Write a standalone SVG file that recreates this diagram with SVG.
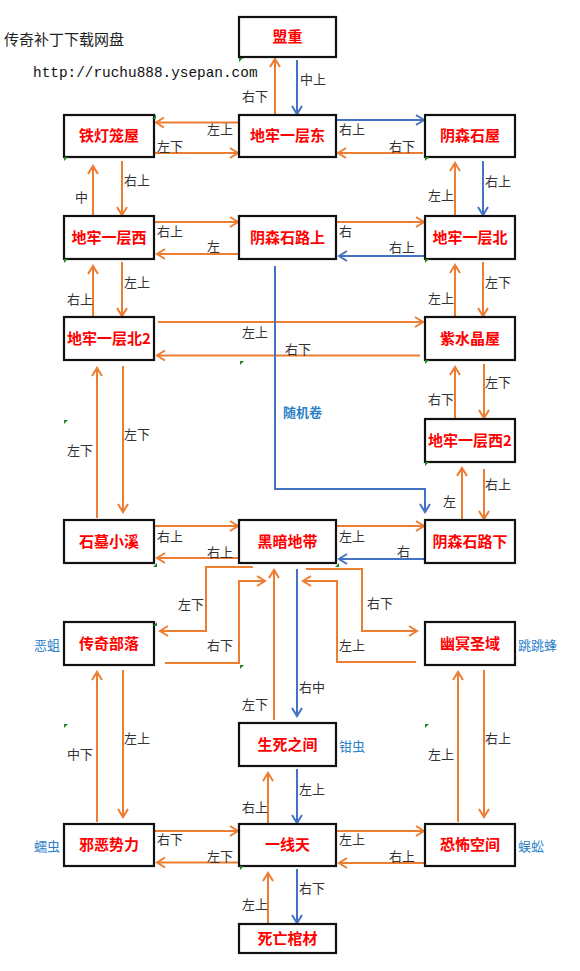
<svg xmlns="http://www.w3.org/2000/svg" width="580" height="971" viewBox="0 0 580 971">
<style>
.box{fill:#fff;stroke:#111;stroke-width:2.2}
.nt{font-family:"Noto Sans CJK SC",sans-serif;font-size:15px;font-weight:bold;fill:#ff0000;text-anchor:middle}
.lb{font-family:"Noto Sans CJK SC",sans-serif;font-size:13px;fill:#333}
.bl{font-family:"Noto Sans CJK SC",sans-serif;font-size:13px;fill:#2a7fc8}
.o{fill:none;stroke:#ED7D31;stroke-width:2}
.b{fill:none;stroke:#4472C4;stroke-width:2}
.oa{marker-end:url(#ao)}
.ba{marker-end:url(#ab)}
.g{fill:#1f8a1f}
</style>
<defs>
<marker id="ao" markerUnits="userSpaceOnUse" markerWidth="13" markerHeight="14" viewBox="-10 -7 13 14" refX="0" refY="0" orient="auto"><path d="M-8,-5 L0,0 L-8,5" fill="none" stroke="#ED7D31" stroke-width="2"/></marker>
<marker id="ab" markerUnits="userSpaceOnUse" markerWidth="13" markerHeight="14" viewBox="-10 -7 13 14" refX="0" refY="0" orient="auto"><path d="M-8,-5 L0,0 L-8,5" fill="none" stroke="#4472C4" stroke-width="2"/></marker>
</defs>
<rect width="580" height="971" fill="#fff"/>
<text x="4" y="45" style="font-family:'Noto Sans CJK SC',sans-serif;font-size:15px;fill:#222">传奇补丁下载网盘</text>
<text x="33" y="77" style="font-family:'Liberation Mono',monospace;font-size:14.4px;fill:#111">http://ruchu888.ysepan.com</text>

<g id="connectors">
<path class="o oa" d="M275,115 V59"/>
<path class="b ba" d="M297,60 V114"/>
<path class="o oa" d="M239,122.5 H156"/>
<path class="o oa" d="M154,153 H238"/>
<path class="b ba" d="M336,120 H424"/>
<path class="o oa" d="M423,153 H338"/>
<path class="o oa" d="M93,216 V166"/>
<path class="o oa" d="M122,161 V215"/>
<path class="o oa" d="M155,222 H238"/>
<path class="o oa" d="M239,254 H157"/>
<path class="o oa" d="M336,222 H424"/>
<path class="b ba" d="M424,256 H339"/>
<path class="o oa" d="M455,216 V163"/>
<path class="b ba" d="M483,161 V215"/>
<path class="o oa" d="M455,317 V265"/>
<path class="o oa" d="M483,262 V316"/>
<path class="o oa" d="M158,322 H423"/>
<path class="o oa" d="M420,355.5 H157"/>
<path class="o oa" d="M93,317 V266"/>
<path class="o oa" d="M122,262 V316"/>
<path class="o oa" d="M97,518 V368"/>
<path class="o oa" d="M123,366 V512"/>
<path class="b ba" d="M275,266 V489 H425 V512"/>
<path class="o oa" d="M154,526 H238"/>
<path class="o oa" d="M239,558 H157"/>
<path class="o oa" d="M336,526 H424"/>
<path class="b ba" d="M424,559 H339"/>
<path class="o oa" d="M462,520 V468"/>
<path class="o oa" d="M484,469 V519"/>
<path class="o oa" d="M455,419 V367"/>
<path class="o oa" d="M484,364 V418"/>
<path class="o oa" d="M253,567 H206 V631 H160"/>
<path class="o oa" d="M165,663 H239 V581 H265"/>
<path class="o oa" d="M274,720 V570"/>
<path class="b ba" d="M297,569 V716"/>
<path class="o oa" d="M306,569 H362 V631 H417"/>
<path class="o oa" d="M416,662 H337 V581 H303"/>
<path class="o oa" d="M97,822 V672"/>
<path class="o oa" d="M123,670 V817"/>
<path class="o oa" d="M154,831 H238"/>
<path class="o oa" d="M239,862.5 H157"/>
<path class="o oa" d="M268,824 V773"/>
<path class="b ba" d="M297,769 V823"/>
<path class="o oa" d="M336,831 H424"/>
<path class="o oa" d="M424,863 H339"/>
<path class="o oa" d="M268,924 V873"/>
<path class="b ba" d="M297,869 V923"/>
<path class="o oa" d="M458,822 V672"/>
<path class="o oa" d="M484,670 V817"/>
</g>

<g id="connector-labels">
<text class="lb" x="242" y="101">右下</text>
<text class="lb" x="300" y="84">中上</text>
<text class="lb" x="207" y="134">左上</text>
<text class="lb" x="157" y="151">左下</text>
<text class="lb" x="339" y="134">右上</text>
<text class="lb" x="389" y="151">右下</text>
<text class="lb" x="75" y="202">中</text>
<text class="lb" x="124" y="185">右上</text>
<text class="lb" x="157" y="236">右上</text>
<text class="lb" x="207" y="251">左</text>
<text class="lb" x="339" y="236">右</text>
<text class="lb" x="389" y="252">右上</text>
<text class="lb" x="428" y="200">左上</text>
<text class="lb" x="485" y="186">右上</text>
<text class="lb" x="428" y="303">左上</text>
<text class="lb" x="485" y="287">左下</text>
<text class="lb" x="242" y="337">左上</text>
<text class="lb" x="285" y="354">右下</text>
<text class="lb" x="67" y="304">右上</text>
<text class="lb" x="124" y="287">左上</text>
<text class="lb" x="67" y="455">左下</text>
<text class="lb" x="124" y="439">左下</text>
<text class="bl" x="283" y="417" font-weight="bold">随机卷</text>
<text class="lb" x="157" y="541">右上</text>
<text class="lb" x="207" y="557">右上</text>
<text class="lb" x="339" y="541">左上</text>
<text class="lb" x="397" y="556">右</text>
<text class="lb" x="443" y="506">左</text>
<text class="lb" x="485" y="489">右上</text>
<text class="lb" x="428" y="404">右下</text>
<text class="lb" x="485" y="387">左下</text>
<text class="lb" x="178" y="609">左下</text>
<text class="lb" x="207" y="650">右下</text>
<text class="lb" x="242" y="709">左下</text>
<text class="lb" x="299" y="692">右中</text>
<text class="lb" x="367" y="608">右下</text>
<text class="lb" x="339" y="650">左上</text>
<text class="lb" x="67" y="759">中下</text>
<text class="lb" x="124" y="743">左上</text>
<text class="lb" x="157" y="844">右下</text>
<text class="lb" x="207" y="861">左下</text>
<text class="lb" x="242" y="812">右上</text>
<text class="lb" x="299" y="794">左上</text>
<text class="lb" x="339" y="844">左上</text>
<text class="lb" x="389" y="861">右上</text>
<text class="lb" x="242" y="909">左上</text>
<text class="lb" x="299" y="893">右下</text>
<text class="lb" x="428" y="759">左上</text>
<text class="lb" x="485" y="743">右上</text>
</g>

<g id="n-mengzhong"><rect class="box" x="239" y="17" width="97" height="40"/><text class="nt" x="287.5" y="42">盟重</text></g>
<g id="n-tiedenglongwu"><rect class="box" x="64" y="115" width="90" height="42"/><text class="nt" x="109" y="141">铁灯笼屋</text></g>
<g id="n-dilaoyicengdong"><rect class="box" x="239" y="115" width="97" height="42"/><text class="nt" x="287.5" y="141">地牢一层东</text></g>
<g id="n-yinsenshiwu"><rect class="box" x="425" y="115" width="90" height="42"/><text class="nt" x="470" y="141">阴森石屋</text></g>
<g id="n-dilaoyicengxi"><rect class="box" x="64" y="216" width="90" height="43"/><text class="nt" x="109" y="243">地牢一层西</text></g>
<g id="n-yinsenshilushang"><rect class="box" x="239" y="216" width="97" height="43"/><text class="nt" x="287.5" y="243">阴森石路上</text></g>
<g id="n-dilaoyicengbei"><rect class="box" x="425" y="216" width="90" height="43"/><text class="nt" x="470" y="243">地牢一层北</text></g>
<g id="n-dilaoyicengbei2"><rect class="box" x="64" y="317" width="90" height="43"/><text class="nt" x="109" y="344">地牢一层北2</text></g>
<g id="n-zishuijingwu"><rect class="box" x="425" y="317" width="90" height="43"/><text class="nt" x="470" y="344">紫水晶屋</text></g>
<g id="n-dilaoyicengxi2"><rect class="box" x="425" y="419" width="90" height="43"/><text class="nt" x="470" y="446">地牢一层西2</text></g>
<g id="n-shimuxiaoxi"><rect class="box" x="64" y="520" width="90" height="43"/><text class="nt" x="109" y="547">石墓小溪</text></g>
<g id="n-heianzone"><rect class="box" x="239" y="520" width="97" height="43"/><text class="nt" x="287.5" y="547">黑暗地带</text></g>
<g id="n-yinsenshiluxia"><rect class="box" x="425" y="520" width="90" height="43"/><text class="nt" x="470" y="547">阴森石路下</text></g>
<g id="n-chuanqibuluo"><rect class="box" x="64" y="622" width="90" height="43"/><text class="nt" x="109" y="649">传奇部落</text><text class="bl" x="34" y="650">恶蛆</text></g>
<g id="n-youmingshengyu"><rect class="box" x="425" y="622" width="90" height="43"/><text class="nt" x="470" y="649">幽冥圣域</text><text class="bl" x="518" y="650">跳跳蜂</text></g>
<g id="n-shengsizhijian"><rect class="box" x="239" y="723" width="97" height="43"/><text class="nt" x="287.5" y="750">生死之间</text><text class="bl" x="339" y="751">钳虫</text></g>
<g id="n-xieeshili"><rect class="box" x="64" y="824" width="90" height="42"/><text class="nt" x="109" y="850">邪恶势力</text><text class="bl" x="34" y="851">蠕虫</text></g>
<g id="n-yixiantian"><rect class="box" x="239" y="824" width="97" height="42"/><text class="nt" x="287.5" y="850">一线天</text></g>
<g id="n-kongbukongjian"><rect class="box" x="425" y="824" width="90" height="42"/><text class="nt" x="470" y="850">恐怖空间</text><text class="bl" x="518" y="851">蜈蚣</text></g>
<g id="n-siwangguancai"><rect class="box" x="239" y="924" width="97" height="29"/><text class="nt" x="287.5" y="944">死亡棺材</text></g>

<g id="marks">
<polygon class="g" points="239,62 239,58 243,58"/>
<polygon class="g" points="152,119 156,115 156,119"/>
<polygon class="g" points="64,161 64,157 68,157"/>
<polygon class="g" points="425,161 425,157 429,157"/>
<polygon class="g" points="64,263 64,259 68,259"/>
<polygon class="g" points="240,365 240,361 244,361"/>
<polygon class="g" points="425,263 425,259 429,259"/>
<polygon class="g" points="425,364 425,360 429,360"/>
<polygon class="g" points="64,424 64,420 68,420"/>
<polygon class="g" points="425,466 425,462 429,462"/>
<polygon class="g" points="153,567 157,563 157,567"/>
<polygon class="g" points="335,567 339,563 339,567"/>
<polygon class="g" points="153,626 157,622 157,626"/>
<polygon class="g" points="240,669 240,665 244,665"/>
<polygon class="g" points="64,728 64,724 68,724"/>
<polygon class="g" points="425,728 425,724 429,724"/>
<polygon class="g" points="240,870 240,866 244,866"/>
</g>
</svg>
